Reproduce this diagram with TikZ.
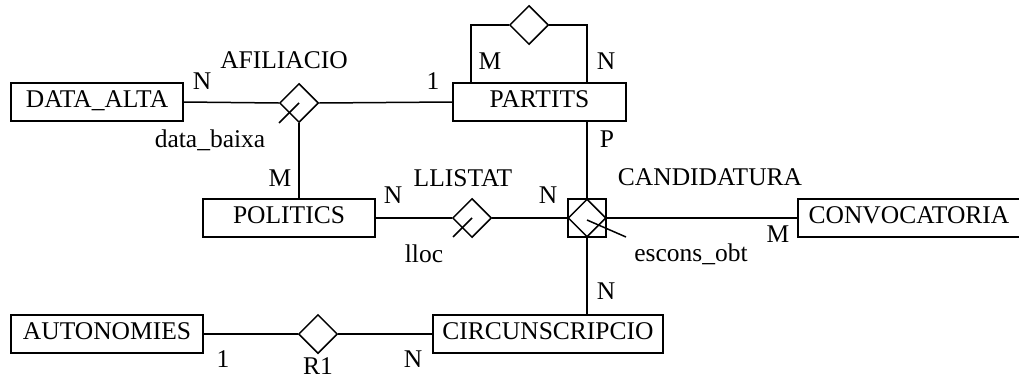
\documentclass[tikz,border=0pt]{standalone}
\usepackage{fontspec}
\setmainfont{Liberation Serif}
\usetikzlibrary{shapes.geometric}
\begin{document}
\begin{tikzpicture}[x=1pt,y=-1pt,
  every node/.style={font=\fontsize{25.5}{30}\selectfont},
  ent/.style={draw,rectangle,line width=1.5pt,minimum height=38pt,inner sep=0pt,text height=17pt,text depth=7pt},
  rel/.style={draw,diamond,line width=1.5pt,minimum width=39pt,minimum height=39pt,inner sep=0pt},
  lab/.style={anchor=base,inner sep=0pt},
  conn/.style={line width=1.5pt}]
\useasboundingbox (0,0) rectangle (1019,378);
% entities
\node[ent,minimum width=172pt] (dataalta) at (97,102) {DATA\_ALTA};
\node[ent,minimum width=173pt] (partits) at (539.5,102) {PARTITS};
\node[ent,minimum width=172pt] (politics) at (289,218) {POLITICS};
\node[ent,minimum width=222pt] (convoc) at (909,218) {CONVOCATORIA};
\node[ent,minimum width=230pt] (circ) at (548,334) {CIRCUNSCRIPCIO};
\node[ent,minimum width=192pt] (auton) at (107,334) {AUTONOMIES};
% relationships
\node[rel] (afil) at (299,103) {};
\node[rel] (loopd) at (529,25) {};
\node[rel] (llistat) at (472,218) {};
\node[draw,rectangle,line width=1.5pt,minimum size=38pt,inner sep=0pt] (candbox) at (587,218) {};
\node[rel,minimum width=38pt,minimum height=38pt] (cand) at (587,218) {};
\node[rel] (r1) at (318,334) {};
% helper coordinates
\coordinate (pl) at (471,83);
\coordinate (pr) at (587,83);
\coordinate (afatt) at (279,123);
\coordinate (llatt) at (453,237);
\coordinate (caatt) at (626,237);
\coordinate (cac) at (587,220);
% connectors
\draw[conn] (dataalta.east) -- (afil.west);
\draw[conn] (afil.east) -- (partits.west);
\draw[conn] (afil.south) -- (afil.south |- politics.north);
\draw[conn] (loopd.west) -| (pl);
\draw[conn] (loopd.east) -| (pr);
\draw[conn] (cand.north) -- (cand.north |- partits.south);
\draw[conn] (cand.south) -- (cand.south |- circ.north);
\draw[conn] (politics.east) -- (llistat.west);
\draw[conn] (llistat.east) -- (candbox.west);
\draw[conn] (candbox.east) -- (convoc.west);
\draw[conn] (auton.east) -- (r1.west);
\draw[conn] (r1.east) -- (circ.west);
% attributes
\draw[conn] (afil.center) -- (afatt);
\draw[conn] (llistat.center) -- (llatt);
\draw[conn] (cac) -- (caatt);
% labels
\node[lab] (l1) at (202,89) {N};
\node[lab] (l2) at (284,68) {AFILIACIO};
\node[lab] (l3) at (210,147) {data\_baixa};
\node[lab] (l4) at (433,89) {1};
\node[lab] (l5) at (490,69) {M};
\node[lab] (l6) at (606,69) {N};
\node[lab] (l7) at (607,147) {P};
\node[lab] (l8) at (280,186) {M};
\node[lab] (l9) at (393,203) {N};
\node[lab] (l10) at (463,186) {LLISTAT};
\node[lab] (l11) at (548,203) {N};
\node[lab] (l12) at (424,262) {lloc};
\node[lab] (l13) at (710,185) {CANDIDATURA};
\node[lab] (l14) at (691,261) {escons\_obt};
\node[lab] (l15) at (778,242) {M};
\node[lab] (l16) at (606,299) {N};
\node[lab] (l17) at (223,367) {1};
\node[lab] (l18) at (413,367) {N};
\node[lab] (l19) at (318,374) {R1};
\end{tikzpicture}
\end{document}
